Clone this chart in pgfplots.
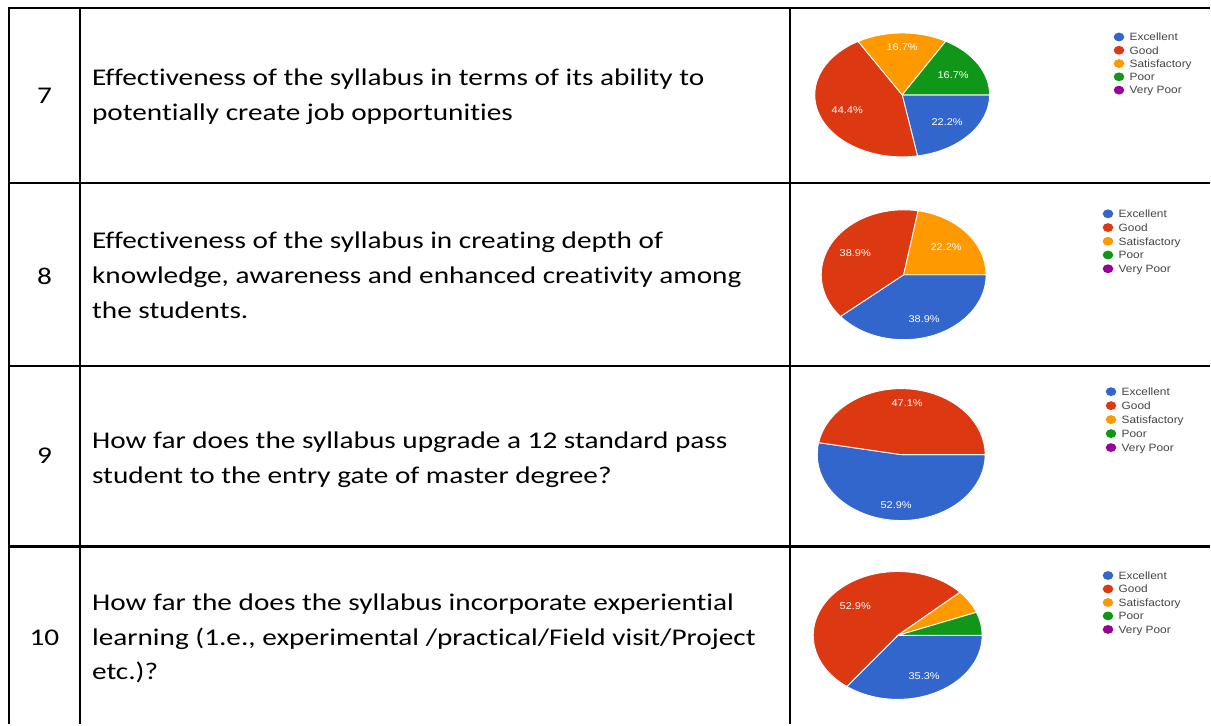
\documentclass[border=0pt]{standalone}
\usepackage{pgfplots}
\pgfplotsset{compat=1.18}
\usepackage{pgfplotstable}
\usepackage{fontspec}
\setmainfont{Carlito}[FakeStretch=1.22, Ligatures=NoCommon]
\newfontfamily\gf[FakeStretch=1.12]{Liberation Sans}
\definecolor{cExc}{HTML}{3366CC}
\definecolor{cGood}{HTML}{DC3912}
\definecolor{cSat}{HTML}{FF9900}
\definecolor{cPoor}{HTML}{109618}
\definecolor{cVP}{HTML}{990099}
\definecolor{legtext}{HTML}{444444}
\newcommand\qf{\fontsize{24}{28}\selectfont}
\newcommand\lf{\gf\fontsize{10.6}{12}\selectfont}
\newcommand\pf{\gf\fontsize{9.8}{11}\selectfont}

% one table for each pie: share of answers in percent
\pgfplotstableread{
label val
Excellent 22.2
Good 44.4
Satisfactory 16.7
Poor 16.7
VeryPoor 0
}\pieA
\pgfplotstableread{
label val
Excellent 38.9
Good 38.9
Satisfactory 22.2
Poor 0
VeryPoor 0
}\pieB
\pgfplotstableread{
label val
Excellent 52.9
Good 47.1
Satisfactory 0
Poor 0
VeryPoor 0
}\pieC
\pgfplotstableread{
label val
Excellent 35.3
Good 52.9
Satisfactory 5.9
Poor 5.9
VeryPoor 0
}\pieD

\newcommand\pie[5]{% cx, cy, rx, ry, table
  \gdef\cumA{0}%
  \foreach \r/\c in {0/cExc,1/cGood,2/cSat,3/cPoor,4/cVP}{%
    \pgfplotstablegetelem{\r}{val}\of#5%
    \let\v\pgfplotsretval
    \pgfmathsetmacro\cumB{\cumA+\v}%
    \pgfmathsetmacro\angA{-3.6*\cumA}%
    \pgfmathsetmacro\angB{-3.6*\cumB}%
    \ifdim\v pt>0pt
      \edef\tmp{\noexpand\fill[\c, draw=white, line width=0.9pt, line join=round] (axis cs:#1,#2) -- ++(\angA:#3pt and #4pt) arc[start angle=\angA, end angle=\angB, x radius=#3pt, y radius=#4pt] -- cycle;}%
      \tmp
    \fi
    \xdef\cumA{\cumB}%
  }%
}
\newcommand\pielegend[3]{% x of dot, y of first, step
  \foreach \n/\c [count=\k from 0] in {Excellent/cExc,Good/cGood,Satisfactory/cSat,Poor/cPoor,Very Poor/cVP}{%
    \pgfmathsetmacro\yy{#2+#3*\k}%
    \pgfmathsetmacro\yb{#2+#3*\k+3.8}%
    \pgfmathsetmacro\xx{#1+10.5}%
    \edef\tmp{\noexpand\fill[\c] (axis cs:#1,\yy) ellipse [x radius=5.3pt, y radius=4.4pt]; \noexpand\node[anchor=base west, inner sep=0pt, font=\noexpand\lf, text=legtext] at (axis cs:\xx,\yb) {\n};}%
    \tmp
  }%
}

\begin{document}
\begin{tikzpicture}
\begin{axis}[x=1pt, y=1pt, xmin=0, xmax=1211, ymin=0, ymax=725, y dir=reverse,
  hide axis, clip=false, scale only axis]
\fill[white] (axis cs:0,0) rectangle (axis cs:1211,725);
% table grid
\foreach \yl in {8,183,366,547}{%
  \edef\tmp{\noexpand\draw[line width=2.2pt] (axis cs:9,\yl) -- (axis cs:1211,\yl);}\tmp}
\foreach \xl in {9,80,791}{%
  \edef\tmp{\noexpand\draw[line width=2.2pt] (axis cs:\xl,7) -- (axis cs:\xl,725);}\tmp}

% numbers
\node[font=\qf, anchor=base, inner sep=0] at (axis cs:44.5,104) {7};
\node[font=\qf, anchor=base, inner sep=0] at (axis cs:44.5,285) {8};
\node[font=\qf, anchor=base, inner sep=0] at (axis cs:44.5,464) {9};
\node[font=\qf, anchor=base, inner sep=0] at (axis cs:44.5,646) {10};

% questions
\node[font=\qf, anchor=base west, inner sep=0] at (axis cs:92,86) {Effectiveness of the syllabus in terms of its ability to};
\node[font=\qf, anchor=base west, inner sep=0] at (axis cs:92,121) {potentially create job opportunities};
\node[font=\qf, anchor=base west, inner sep=0] at (axis cs:92,249) {Effectiveness of the syllabus in creating depth of};
\node[font=\qf, anchor=base west, inner sep=0] at (axis cs:92,284) {knowledge, awareness and enhanced creativity among};
\node[font=\qf, anchor=base west, inner sep=0] at (axis cs:92,319) {the students.};
\node[font=\qf, anchor=base west, inner sep=0] at (axis cs:92,449) {How far does the syllabus upgrade a 12 standard pass};
\node[font=\qf, anchor=base west, inner sep=0] at (axis cs:92,484) {student to the entry gate of master degree?};
\node[font=\qf, anchor=base west, inner sep=0] at (axis cs:92,611) {How far the does the syllabus incorporate experiential};
\node[font=\qf, anchor=base west, inner sep=0] at (axis cs:92,646) {learning (1.e., experimental /practical/Field visit/Project};
\node[font=\qf, anchor=base west, inner sep=0] at (axis cs:92,680) {etc.)?};

% pies
\pie{903}{95}{87.5}{62}{\pieA}
\pie{904.5}{275}{82.5}{65}{\pieB}
\pie{902}{455}{84}{66}{\pieC}
\pie{898.5}{636}{84.5}{64}{\pieD}

% slice labels
\node[font=\pf, text=white] at (axis cs:903,47) {16.7\%};
\node[font=\pf, text=white] at (axis cs:954,75) {16.7\%};
\node[font=\pf, text=white] at (axis cs:848,110) {44.4\%};
\node[font=\pf, text=white] at (axis cs:948,122) {22.2\%};
\node[font=\pf, text=white] at (axis cs:856,253) {38.9\%};
\node[font=\pf, text=white] at (axis cs:947,247) {22.2\%};
\node[font=\pf, text=white] at (axis cs:925,319) {38.9\%};
\node[font=\pf, text=white] at (axis cs:908,403) {47.1\%};
\node[font=\pf, text=white] at (axis cs:897,506) {52.9\%};
\node[font=\pf, text=white] at (axis cs:856,607) {52.9\%};
\node[font=\pf, text=white] at (axis cs:925,677) {35.3\%};

% legends
\pielegend{1120}{37}{13.3}
\pielegend{1109}{214}{13.75}
\pielegend{1112}{392}{14}
\pielegend{1109}{576}{13.5}
\end{axis}
\end{tikzpicture}
\end{document}
